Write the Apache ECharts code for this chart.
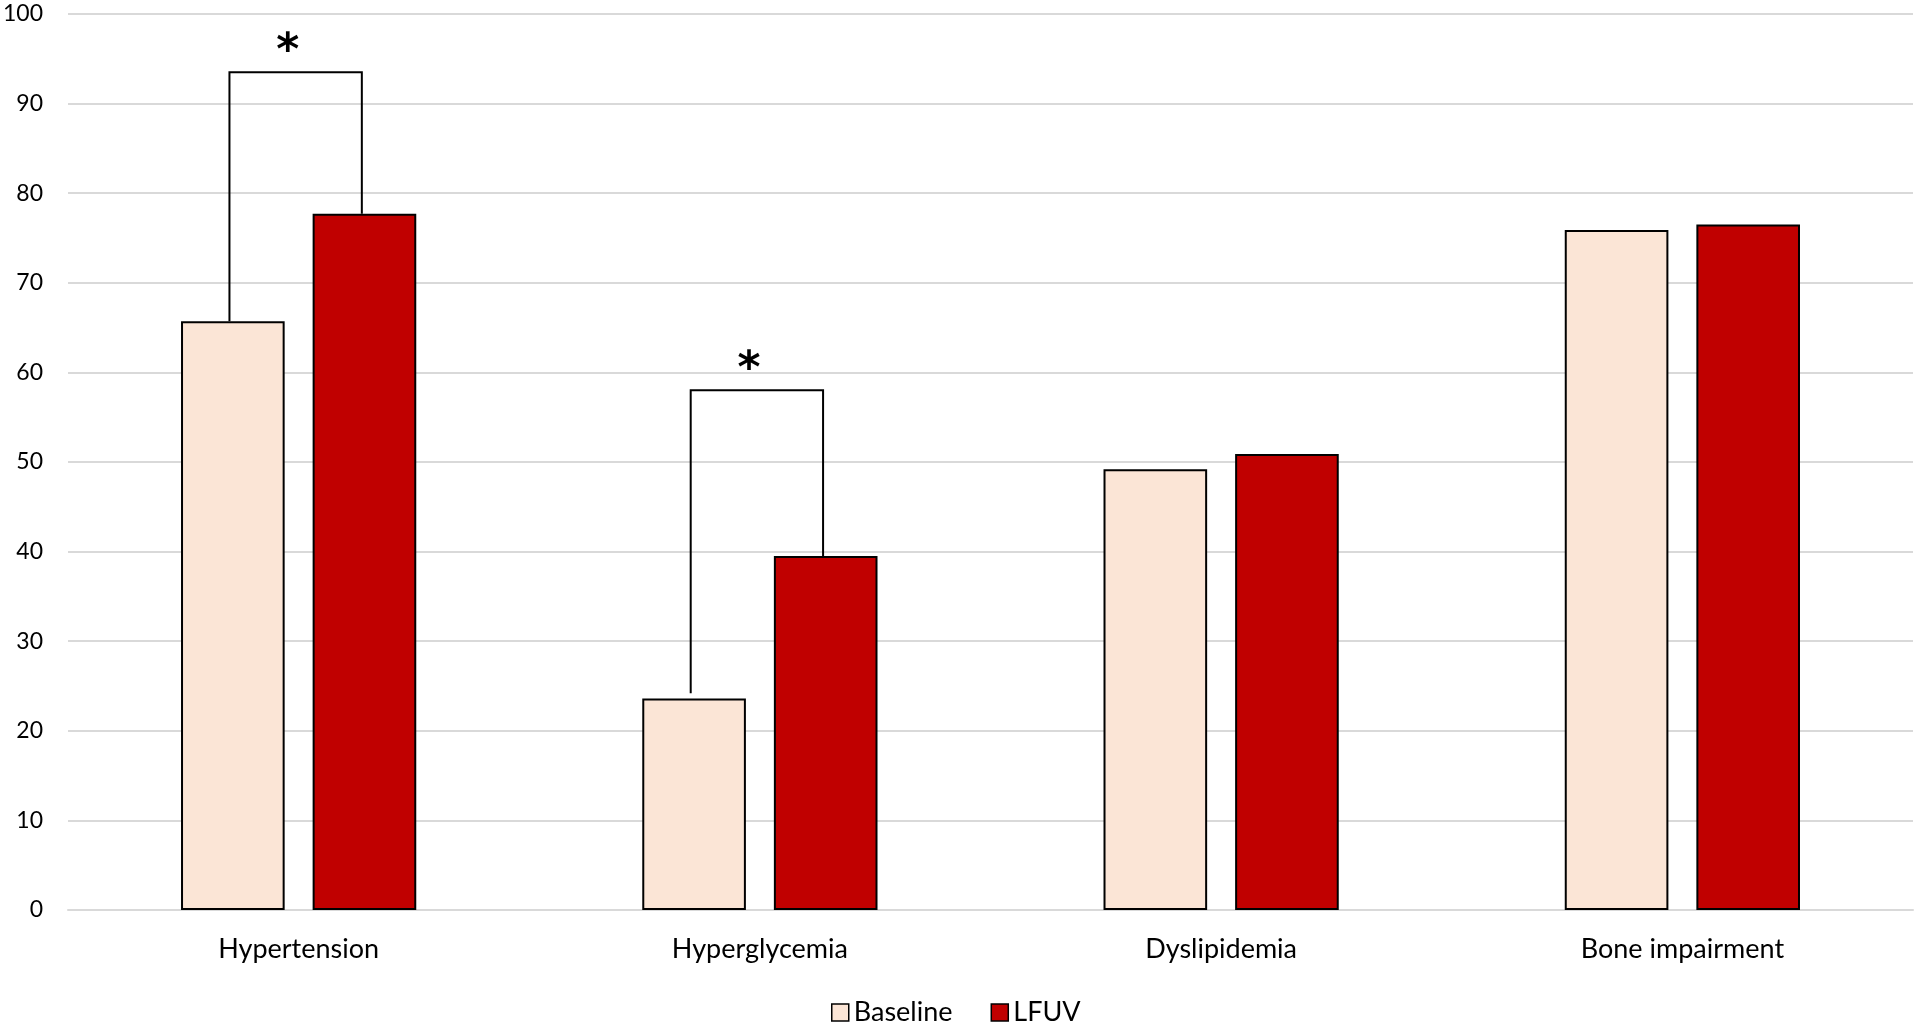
<!DOCTYPE html>
<html>
<head>
<meta charset="utf-8">
<script src="https://cdn.jsdelivr.net/npm/echarts@6/dist/echarts.min.js"></script>
<style>
  html, body { margin: 0; padding: 0; background: #fff; }
  #main { width: 1917px; height: 1023px; }
</style>
</head>
<body>
<div id="main"></div>
<script>
// categories and values
var categories = ['Hypertension', 'Hyperglycemia', 'Dyslipidemia', 'Bone impairment'];
var baseline = [65.7, 23.6, 49.2, 75.9];
var lfuv = [77.7, 39.5, 50.9, 76.5];
var yTicks = [0, 10, 20, 30, 40, 50, 60, 70, 80, 90, 100];

// significance brackets: category index, left leg end, right leg end, top
var bracketCat = [0, 1];
var bracketLeft = [65.7, 24.2];
var bracketRight = [77.7, 39.5];
var bracketTop = [93.5, 58.0];

var font = 'Lato, "Open Sans", sans-serif';

var bracketData = bracketCat.map(function (c, i) {
  return [c, bracketLeft[i], bracketRight[i], bracketTop[i]];
});

var myChart = echarts.init(document.getElementById('main'));
myChart.setOption({
  animation: false,
  grid: { left: 68, right: 4, top: 14, bottom: 113 },
  legend: {
    left: 826,
    top: 994,
    icon: 'rect',
    itemWidth: 17,
    itemHeight: 17,
    itemGap: 38,
    textStyle: { fontFamily: font, fontSize: 27, color: '#000' },
    data: [
      { name: 'Baseline', itemStyle: { borderColor: '#000', borderWidth: 1.5 } },
      { name: 'LFUV', itemStyle: { borderColor: '#000', borderWidth: 1.5 } }
    ]
  },
  xAxis: {
    type: 'category',
    data: categories,
    axisTick: { show: false },
    axisLine: { lineStyle: { color: '#d9d9d9', width: 2 } },
    axisLabel: { margin: 26, fontFamily: font, fontSize: 27, color: '#000' }
  },
  yAxis: {
    type: 'value',
    min: yTicks[0],
    max: yTicks[yTicks.length - 1],
    interval: 10,
    axisLine: { show: false },
    axisTick: { show: false },
    splitLine: { lineStyle: { color: '#d9d9d9', width: 2 } },
    axisLabel: { margin: 25, fontFamily: font, fontSize: 23, color: '#000' }
  },
  series: [
    {
      name: 'Baseline',
      type: 'bar',
      data: baseline,
      barGap: '27%',
      barCategoryGap: '49%',
      itemStyle: { color: '#FBE5D6', borderColor: '#000', borderWidth: 2 }
    },
    {
      name: 'LFUV',
      type: 'bar',
      data: lfuv,
      itemStyle: { color: '#C00000', borderColor: '#000', borderWidth: 2 }
    },
    {
      name: 'brackets',
      type: 'custom',
      silent: true,
      z: 5,
      data: bracketData,
      renderItem: function (params, api) {
        var c = api.value(0);
        var band = api.size([1, 0])[0];
        var mid = api.coord([c, 0])[0];
        var xl = mid - band * 0.15;
        var xr = mid + band * 0.137;
        var yl = api.coord([c, api.value(1)])[1];
        var yr = api.coord([c, api.value(2)])[1];
        var yt = api.coord([c, api.value(3)])[1];
        return {
          type: 'group',
          children: [
            {
              type: 'polyline',
              shape: { points: [[xl, yl], [xl, yt], [xr, yt], [xr, yr]] },
              style: { stroke: '#000', lineWidth: 2, fill: null }
            },
            {
              type: 'text',
              style: {
                text: '*',
                x: (xl + xr) / 2 - 8,
                y: yt - 20,
                textAlign: 'center',
                textVerticalAlign: 'middle',
                fontFamily: 'DejaVu Sans',
                fontWeight: 'bold',
                fontSize: 44,
                fill: '#000'
              }
            }
          ]
        };
      }
    }
  ]
});
</script>
</body>
</html>
